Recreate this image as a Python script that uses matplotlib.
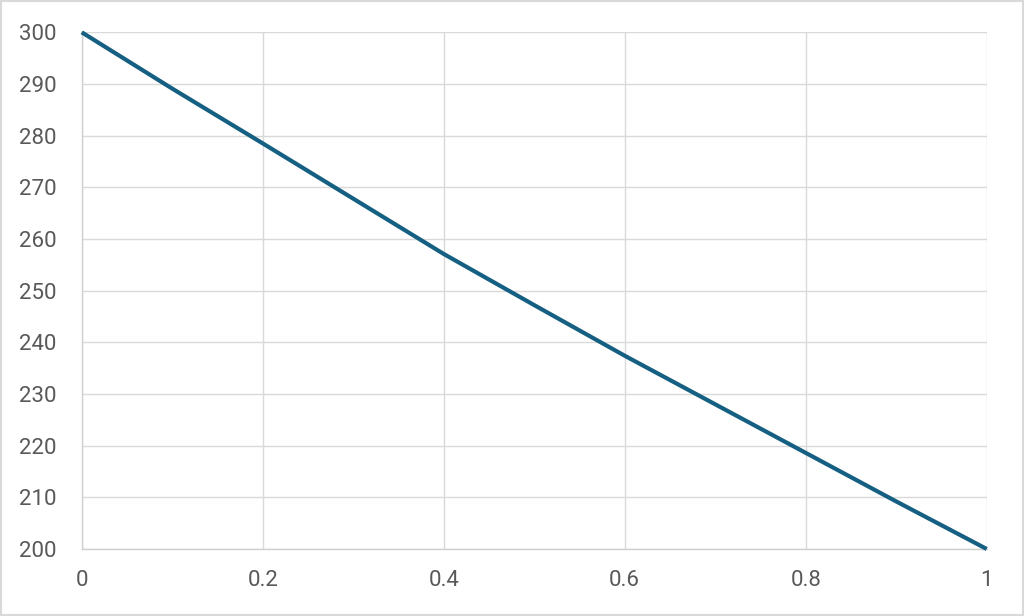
import matplotlib
matplotlib.use("Agg")
import matplotlib.pyplot as plt
from matplotlib.patches import Rectangle

x_values = [0.0, 0.1, 0.2, 0.3, 0.4, 0.5, 0.6, 0.7, 0.8, 0.9, 1.0]
y_values = [300.0, 289.1, 278.5, 267.8, 257.1, 247.2, 237.4, 228.0, 218.6, 209.2, 200.0]
x_ticks = [0, 0.2, 0.4, 0.6, 0.8, 1]
x_tick_labels = ["0", "0.2", "0.4", "0.6", "0.8", "1"]
y_ticks = [200, 210, 220, 230, 240, 250, 260, 270, 280, 290, 300]

plt.rcParams['font.family'] = ['Roboto', 'DejaVu Sans']

fig = plt.figure(figsize=(10.24, 6.16), dpi=100)
ax = fig.add_axes([0.0798, 0.1088, 0.8838, 0.8388])

ax.plot(x_values, y_values, color="#156082", linewidth=3.0, solid_capstyle="butt", zorder=3, clip_on=False)

ax.set_xlim(0, 1)
ax.set_ylim(200, 300)
ax.set_xticks(x_ticks)
ax.set_xticklabels(x_tick_labels)
ax.set_yticks(y_ticks)
ax.grid(True, color="#d9d9d9", linewidth=1.0)
ax.set_axisbelow(True)
for s in ["top", "right"]:
    ax.spines[s].set_visible(False)
for s in ["left", "bottom"]:
    ax.spines[s].set_color("#d0d0d0")
    ax.spines[s].set_linewidth(1.0)
ax.tick_params(axis="both", length=0, labelsize=16, labelcolor="#595959")
ax.tick_params(axis="y", pad=18)
ax.tick_params(axis="x", pad=15)

fig.patches.append(Rectangle((0.001, 0.002), 0.998, 0.996, transform=fig.transFigure,
                             fill=False, edgecolor="#d9d9d9", linewidth=1.5))

fig.savefig("out.png", dpi=100)
